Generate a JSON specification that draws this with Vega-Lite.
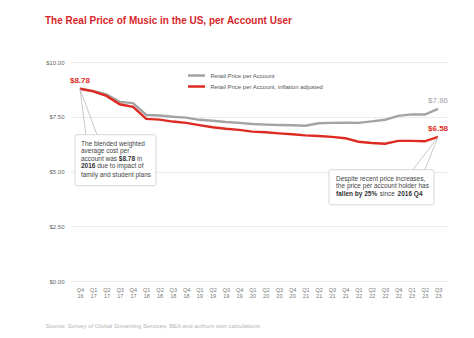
{
  "$schema": "https://vega.github.io/schema/vega-lite/v6.json",
  "autosize": {"type": "none"},
  "width": 378,
  "height": 219,
  "padding": {"left": 70, "top": 62, "right": 26, "bottom": 57},
  "background": "white",
  "config": {
    "font": "Liberation Sans",
    "view": {"stroke": null}
  },
  "title": {
    "text": "The Real Price of Music in the US, per Account User",
    "anchor": "start",
    "frame": "group",
    "dx": -25,
    "offset": 25,
    "baseline": "alphabetic",
    "fontSize": 10,
    "fontWeight": "bold",
    "color": "#d7262b",
    "font": "Liberation Sans"
  },
  "datasets": {
    "prices": [
      {"i": 0, "s": "Retail Price per Account", "v": 8.78},
      {"i": 1, "s": "Retail Price per Account", "v": 8.68},
      {"i": 2, "s": "Retail Price per Account", "v": 8.52},
      {"i": 3, "s": "Retail Price per Account", "v": 8.18},
      {"i": 4, "s": "Retail Price per Account", "v": 8.12},
      {"i": 5, "s": "Retail Price per Account", "v": 7.58},
      {"i": 6, "s": "Retail Price per Account", "v": 7.56},
      {"i": 7, "s": "Retail Price per Account", "v": 7.5},
      {"i": 8, "s": "Retail Price per Account", "v": 7.46},
      {"i": 9, "s": "Retail Price per Account", "v": 7.36},
      {"i": 10, "s": "Retail Price per Account", "v": 7.32},
      {"i": 11, "s": "Retail Price per Account", "v": 7.26},
      {"i": 12, "s": "Retail Price per Account", "v": 7.22},
      {"i": 13, "s": "Retail Price per Account", "v": 7.17},
      {"i": 14, "s": "Retail Price per Account", "v": 7.14},
      {"i": 15, "s": "Retail Price per Account", "v": 7.12},
      {"i": 16, "s": "Retail Price per Account", "v": 7.11},
      {"i": 17, "s": "Retail Price per Account", "v": 7.09},
      {"i": 18, "s": "Retail Price per Account", "v": 7.2},
      {"i": 19, "s": "Retail Price per Account", "v": 7.22},
      {"i": 20, "s": "Retail Price per Account", "v": 7.23},
      {"i": 21, "s": "Retail Price per Account", "v": 7.22},
      {"i": 22, "s": "Retail Price per Account", "v": 7.29},
      {"i": 23, "s": "Retail Price per Account", "v": 7.36},
      {"i": 24, "s": "Retail Price per Account", "v": 7.54},
      {"i": 25, "s": "Retail Price per Account", "v": 7.61},
      {"i": 26, "s": "Retail Price per Account", "v": 7.6},
      {"i": 27, "s": "Retail Price per Account", "v": 7.86},
      {"i": 0, "s": "Retail Price per Account, inflation adjusted", "v": 8.78},
      {"i": 1, "s": "Retail Price per Account, inflation adjusted", "v": 8.66},
      {"i": 2, "s": "Retail Price per Account, inflation adjusted", "v": 8.45},
      {"i": 3, "s": "Retail Price per Account, inflation adjusted", "v": 8.07},
      {"i": 4, "s": "Retail Price per Account, inflation adjusted", "v": 7.95},
      {"i": 5, "s": "Retail Price per Account, inflation adjusted", "v": 7.4},
      {"i": 6, "s": "Retail Price per Account, inflation adjusted", "v": 7.37},
      {"i": 7, "s": "Retail Price per Account, inflation adjusted", "v": 7.28},
      {"i": 8, "s": "Retail Price per Account, inflation adjusted", "v": 7.22},
      {"i": 9, "s": "Retail Price per Account, inflation adjusted", "v": 7.12},
      {"i": 10, "s": "Retail Price per Account, inflation adjusted", "v": 7.02},
      {"i": 11, "s": "Retail Price per Account, inflation adjusted", "v": 6.95},
      {"i": 12, "s": "Retail Price per Account, inflation adjusted", "v": 6.9},
      {"i": 13, "s": "Retail Price per Account, inflation adjusted", "v": 6.82},
      {"i": 14, "s": "Retail Price per Account, inflation adjusted", "v": 6.79},
      {"i": 15, "s": "Retail Price per Account, inflation adjusted", "v": 6.74},
      {"i": 16, "s": "Retail Price per Account, inflation adjusted", "v": 6.7},
      {"i": 17, "s": "Retail Price per Account, inflation adjusted", "v": 6.65},
      {"i": 18, "s": "Retail Price per Account, inflation adjusted", "v": 6.62},
      {"i": 19, "s": "Retail Price per Account, inflation adjusted", "v": 6.58},
      {"i": 20, "s": "Retail Price per Account, inflation adjusted", "v": 6.52},
      {"i": 21, "s": "Retail Price per Account, inflation adjusted", "v": 6.36},
      {"i": 22, "s": "Retail Price per Account, inflation adjusted", "v": 6.3},
      {"i": 23, "s": "Retail Price per Account, inflation adjusted", "v": 6.27},
      {"i": 24, "s": "Retail Price per Account, inflation adjusted", "v": 6.4},
      {"i": 25, "s": "Retail Price per Account, inflation adjusted", "v": 6.4},
      {"i": 26, "s": "Retail Price per Account, inflation adjusted", "v": 6.38},
      {"i": 27, "s": "Retail Price per Account, inflation adjusted", "v": 6.58}
    ],
    "boxes": [
      {"x": -0.38, "x2": 5.73, "y": 6.68, "y2": 4.35},
      {"x": 18.78, "x2": 26.7, "y": 5.08, "y2": 3.48}
    ],
    "callouts": [
      {"x": 0, "y": 8.78, "x2": 0.45, "y2": 6.68},
      {"x": 0, "y": 8.78, "x2": 1.28, "y2": 6.68},
      {"x": 27, "y": 6.58, "x2": 25.1, "y2": 5.08},
      {"x": 27, "y": 6.58, "x2": 26.0, "y2": 5.08}
    ],
    "notesNormal": [
      {"x": 0.075, "y": 6.256, "t": "The blended weighted"},
      {"x": 0.075, "y": 5.918, "t": "average cost per"},
      {"x": 0.075, "y": 5.571, "t": "account was"},
      {"x": 4.3, "y": 5.571, "t": "in"},
      {"x": 1.3, "y": 5.233, "t": "due to impact of"},
      {"x": 0.075, "y": 4.856, "t": "family and student plans"},
      {"x": 19.31, "y": 4.658, "t": "Despite recent price increases,"},
      {"x": 19.31, "y": 4.32, "t": "the price per account holder has"},
      {"x": 22.6, "y": 3.986, "t": "since"}
    ],
    "notesBold": [
      {"x": 2.93, "y": 5.571, "t": "$8.78"},
      {"x": 0.075, "y": 5.233, "t": "2016"},
      {"x": 19.31, "y": 3.986, "t": "fallen by 25%"},
      {"x": 23.95, "y": 3.986, "t": "2016 Q4"}
    ]
  },
  "layer": [
    {
      "data": {"name": "prices"},
      "mark": {"type": "line", "strokeWidth": 2.4, "interpolate": "linear"},
      "encoding": {
        "x": {
          "field": "i",
          "type": "quantitative",
          "scale": {"domain": [-0.75, 27.75], "nice": false, "zero": false},
          "axis": {
            "values": [0,1,2,3,4,5,6,7,8,9,10,11,12,13,14,15,16,17,18,19,20,21,22,23,24,25,26,27],
            "tickCount": 40,
            "labelExpr": "['Q' + ((datum.value + 3) % 4 + 1), '' + (16 + floor((datum.value + 3) / 4))]",
            "grid": false,
            "domain": false,
            "ticks": false,
            "tickSize": 0,
            "labelPadding": 6,
            "labelFontSize": 5.5,
            "labelLineHeight": 6.5,
            "labelColor": "#777777",
            "labelFont": "Liberation Sans",
            "labelFlush": false,
            "labelOverlap": false,
            "title": "Source: Survey of Global Streaming Services, BEA and authors own calculations",
            "titleX": -25,
            "titleY": 44,
            "titleAlign": "left",
            "titleAnchor": null,
            "titleBaseline": "middle",
            "titleFontSize": 6,
            "titleFontWeight": "normal",
            "titleColor": "#b5b5b5",
            "titleFont": "Liberation Sans"
          }
        },
        "y": {
          "field": "v",
          "type": "quantitative",
          "scale": {"domain": [0, 10], "nice": false},
          "axis": {
            "values": [0, 2.5, 5, 7.5, 10],
            "format": "$.2f",
            "title": null,
            "domain": false,
            "ticks": false,
            "tickSize": 0,
            "labelPadding": 6,
            "labelFontSize": 6,
            "labelColor": "#666666",
            "labelFont": "Liberation Sans",
            "gridColor": "#e6e6e6",
            "gridWidth": 0.8
          }
        },
        "color": {
          "field": "s",
          "type": "nominal",
          "scale": {
            "domain": ["Retail Price per Account", "Retail Price per Account, inflation adjusted"],
            "range": ["#a3a3a3", "#dd2a22"]
          },
          "legend": {
            "orient": "none",
            "legendX": 121,
            "legendY": 8,
            "title": null,
            "symbolType": "M-2,0H2",
            "symbolSize": 72,
            "symbolStrokeWidth": 2.5,
            "labelFontSize": 6,
            "labelColor": "#555555",
            "labelFont": "Liberation Sans",
            "labelOffset": 8.5,
            "rowPadding": -1
          }
        }
      }
    },
    {
      "data": {"name": "callouts"},
      "mark": {"type": "rule", "stroke": "#b0b0b0", "strokeWidth": 0.7},
      "encoding": {
        "x": {"field": "x", "type": "quantitative"},
        "y": {"field": "y", "type": "quantitative"},
        "x2": {"field": "x2"},
        "y2": {"field": "y2"}
      }
    },
    {
      "data": {"name": "boxes"},
      "mark": {"type": "rect", "fill": "white", "stroke": "#cccccc", "strokeWidth": 0.8, "cornerRadius": 2},
      "encoding": {
        "x": {"field": "x", "type": "quantitative"},
        "x2": {"field": "x2"},
        "y": {"field": "y", "type": "quantitative"},
        "y2": {"field": "y2"}
      }
    },
    {
      "data": {"name": "notesNormal"},
      "mark": {"type": "text", "align": "left", "baseline": "middle", "fontSize": 6.5, "color": "#444444", "font": "Liberation Sans"},
      "encoding": {
        "x": {"field": "x", "type": "quantitative"},
        "y": {"field": "y", "type": "quantitative"},
        "text": {"field": "t"}
      }
    },
    {
      "data": {"name": "notesBold"},
      "mark": {"type": "text", "align": "left", "baseline": "middle", "fontSize": 6.5, "fontWeight": "bold", "color": "#333333", "font": "Liberation Sans"},
      "encoding": {
        "x": {"field": "x", "type": "quantitative"},
        "y": {"field": "y", "type": "quantitative"},
        "text": {"field": "t"}
      }
    },
    {
      "data": {"name": "prices"},
      "transform": [{"filter": "datum.s == 'Retail Price per Account, inflation adjusted' && (datum.i == 0 || datum.i == 27)"}],
      "mark": {"type": "text", "align": "center", "baseline": "middle", "dy": -8, "fontSize": 8, "fontWeight": "bold", "color": "#dd2a22", "font": "Liberation Sans"},
      "encoding": {
        "x": {"field": "i", "type": "quantitative"},
        "y": {"field": "v", "type": "quantitative"},
        "text": {"field": "v", "format": "$.2f"}
      }
    },
    {
      "data": {"name": "prices"},
      "transform": [{"filter": "datum.s == 'Retail Price per Account' && datum.i == 27"}],
      "mark": {"type": "text", "align": "center", "baseline": "middle", "dy": -8, "fontSize": 8, "color": "#a3a3a3", "font": "Liberation Sans"},
      "encoding": {
        "x": {"field": "i", "type": "quantitative"},
        "y": {"field": "v", "type": "quantitative"},
        "text": {"field": "v", "format": "$.2f"}
      }
    }
  ]
}
